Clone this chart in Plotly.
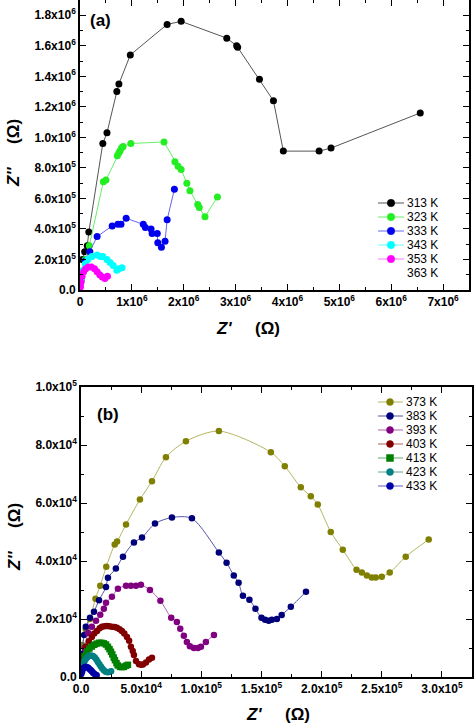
import plotly.graph_objects as go

# ---------------- Panel (a): Z'' vs Z' (values in MOhm, scaled below) ----------------
A_SCALE = 1e6
a313_x = [0.05, 0.09, 0.14, 0.17, 0.44, 0.52, 0.71, 0.75, 0.97, 1.68, 1.95, 2.83, 3.02, 3.04, 3.46, 3.73, 3.92, 4.61, 4.84, 6.56]
a313_y = [0.20, 0.25, 0.29, 0.38, 0.96, 1.03, 1.30, 1.35, 1.54, 1.74, 1.76, 1.65, 1.60, 1.59, 1.38, 1.24, 0.91, 0.91, 0.93, 1.16]
a323_x = [0.03, 0.10, 0.18, 0.45, 0.50, 0.72, 0.75, 0.77, 0.80, 0.83, 0.98, 1.62, 1.83, 1.89, 1.95, 2.06, 2.12, 2.27, 2.30, 2.41, 2.65]
a323_y = [0.08, 0.20, 0.29, 0.71, 0.72, 0.88, 0.90, 0.91, 0.93, 0.94, 0.96, 0.97, 0.84, 0.81, 0.79, 0.70, 0.65, 0.56, 0.54, 0.48, 0.61]
a333_x = [0.02, 0.05, 0.10, 0.19, 0.33, 0.62, 0.73, 0.79, 0.89, 1.22, 1.26, 1.37, 1.39, 1.49, 1.50, 1.57, 1.64, 1.68, 1.82]
a333_y = [0.06, 0.12, 0.19, 0.25, 0.35, 0.42, 0.43, 0.43, 0.47, 0.43, 0.41, 0.40, 0.37, 0.37, 0.31, 0.28, 0.32, 0.46, 0.66]
a343_x = [0.01, 0.03, 0.06, 0.10, 0.15, 0.23, 0.33, 0.39, 0.44, 0.52, 0.58, 0.64, 0.71, 0.75, 0.81]
a343_y = [0.04, 0.08, 0.13, 0.17, 0.20, 0.22, 0.23, 0.22, 0.22, 0.20, 0.18, 0.16, 0.13, 0.14, 0.145]
a353_x = [0.01, 0.02, 0.04, 0.07, 0.11, 0.16, 0.22, 0.28, 0.33, 0.38, 0.43, 0.48, 0.53]
a353_y = [0.02, 0.05, 0.09, 0.12, 0.14, 0.15, 0.15, 0.14, 0.12, 0.10, 0.085, 0.075, 0.09]
a363_x = []
a363_y = []

# ---------------- Panel (b): values in kOhm, scaled below ----------------
B_SCALE = 1e3
b373_x = [1, 4, 7.5, 12, 16, 21, 28, 30, 37.4, 49, 59, 70.6, 87.2, 114.6, 157.8, 169.4, 182.7, 191, 196.8, 207.6, 217.6, 229, 233.4, 237.6, 241.7, 245, 250, 256.6, 269.9, 289]
b373_y = [11, 16.5, 20, 27, 31.5, 38, 45.7, 46.7, 52.6, 61.2, 67.5, 75.8, 81.3, 84.8, 77.5, 72.7, 65.4, 62.3, 59.5, 50, 43.9, 37, 36, 35, 34.3, 34.3, 34.6, 36, 41.5, 47.4]
b383_x = [1, 2.5, 4, 7.5, 10.8, 15, 20.8, 22.4, 29, 34.9, 44, 50.7, 61.5, 75.6, 92.2, 114.6, 121, 127, 131, 134.6, 140, 145, 150, 153, 156, 158.6, 162.8, 166.8, 174.4, 187]
b383_y = [8, 14.5, 17.3, 20.4, 22.5, 26.5, 31, 34.2, 37.4, 41.5, 46.4, 48.1, 52.9, 55, 54.7, 42.9, 39.4, 35, 32.5, 28, 26.6, 23.5, 20.4, 19.7, 19.4, 19.7, 20, 21.4, 24.2, 29.4]
b393_x = [1, 3, 6, 9, 12.5, 16, 19, 20.8, 25.7, 30.7, 37.4, 41.5, 45.7, 49.8, 57.3, 66, 75, 79.7, 82.5, 85.5, 88, 90.5, 93.8, 97.2, 99.7, 103.8, 110.5]
b393_y = [5, 10, 15.2, 17.3, 19.4, 21.5, 23.5, 25.6, 27.7, 30.4, 31.5, 31.5, 31.5, 31.8, 30, 26.3, 20.4, 19, 16.6, 14.2, 12.1, 10.6, 10, 10, 10.4, 12.1, 14.5]
b403_x = [0.5, 2, 4, 6.5, 9, 11, 13.3, 15.5, 17.4, 19.5, 21.6, 23.5, 25.7, 28, 29.9, 32, 34, 36, 38.2, 40, 41.5, 43, 44, 45.7, 48.2, 50, 51.5, 54, 56.5, 59]
b403_y = [3, 7, 10.4, 12.3, 13.8, 15, 15.9, 16.8, 17.3, 17.5, 17.6, 17.5, 17.3, 17.2, 17, 16.5, 15.9, 15, 13.8, 12.5, 10.4, 9, 7.6, 5.5, 4.4, 4.2, 4.3, 5, 6, 6.6]
b413_x = [0.5, 1.5, 3, 5, 7, 9, 11, 13, 15, 17, 19, 20.8, 22.4, 23.7, 24.9, 26, 27.2, 28.2, 29.5, 30.5, 32.4, 34, 35.7, 37.5, 39]
b413_y = [2.5, 5, 7.2, 8.8, 9.8, 10.5, 11.1, 11.5, 11.8, 11.8, 11.6, 11.2, 10.4, 9.6, 8.7, 7.8, 6.7, 5.8, 4.8, 4, 3.5, 3.4, 3.5, 3.9, 4.2]
b423_x = [0.3, 1, 2, 3, 4.2, 5.5, 7, 8.5, 10, 11.5, 12.8, 14, 15.3, 16.5, 17.7, 19, 20.5, 22, 23.5, 25]
b423_y = [1.5, 3, 4.5, 5.5, 6.3, 6.9, 7.3, 7.4, 7.2, 6.7, 6, 5.2, 4.4, 3.6, 2.9, 2.3, 1.8, 1.6, 1.7, 2.0]
b433_x = [0.3, 1, 2, 3, 4, 5, 6, 7, 8, 9, 10, 11, 12, 13]
b433_y = [1, 2, 3, 3.4, 3.5, 3.4, 3.2, 2.8, 2.4, 2, 1.5, 1.1, 0.8, 0.6]

# tick labels
a_xticks = [0, 1e6, 2e6, 3e6, 4e6, 5e6, 6e6, 7e6]
a_xtext = ["0", "1x10<sup>6</sup>", "2x10<sup>6</sup>", "3x10<sup>6</sup>", "4x10<sup>6</sup>",
           "5x10<sup>6</sup>", "6x10<sup>6</sup>", "7x10<sup>6</sup>"]
a_yticks = [0, 2e5, 4e5, 6e5, 8e5, 1.0e6, 1.2e6, 1.4e6, 1.6e6, 1.8e6]
a_ytext = ["0.0", "2.0x10<sup>5</sup>", "4.0x10<sup>5</sup>", "6.0x10<sup>5</sup>", "8.0x10<sup>5</sup>",
           "1.0x10<sup>6</sup>", "1.2x10<sup>6</sup>", "1.4x10<sup>6</sup>", "1.6x10<sup>6</sup>", "1.8x10<sup>6</sup>"]
b_xticks = [0, 5e4, 1e5, 1.5e5, 2e5, 2.5e5, 3e5]
b_xtext = ["0.0", "5.0x10<sup>4</sup>", "1.0x10<sup>5</sup>", "1.5x10<sup>5</sup>", "2.0x10<sup>5</sup>",
           "2.5x10<sup>5</sup>", "3.0x10<sup>5</sup>"]
b_yticks = [0, 2e4, 4e4, 6e4, 8e4, 1e5]
b_ytext = ["0.0", "2.0x10<sup>4</sup>", "4.0x10<sup>4</sup>", "6.0x10<sup>4</sup>", "8.0x10<sup>4</sup>",
           "1.0x10<sup>5</sup>"]

FONT = "Liberation Sans, Arial, sans-serif"
W, H = 474, 726

fig = go.Figure()

def sc(v, s):
    return [t * s for t in v]

def bold(lst):
    return ["<b>" + t + "</b>" for t in lst]

# name, x, y, marker colour, line colour, symbol, show marker in key
a_series = [
    ("313 K", a313_x, a313_y, "#000000", "#555555", "circle", True),
    ("323 K", a323_x, a323_y, "#22ee22", "#66ee66", "circle", True),
    ("333 K", a333_x, a333_y, "#0000ee", "#6666ee", "circle", True),
    ("343 K", a343_x, a343_y, "#00ffff", "#66ffff", "circle", True),
    ("353 K", a353_x, a353_y, "#ff00ff", "#ff77ff", "circle", True),
    ("363 K", a363_x, a363_y, "#ffffff", "#ffffff", "circle", False),
]
b_series = [
    ("373 K", b373_x, b373_y, "#808000", "#b5b560", "circle", True),
    ("383 K", b383_x, b383_y, "#00007a", "#5555aa", "circle", True),
    ("393 K", b393_x, b393_y, "#800080", "#b060b0", "circle", True),
    ("403 K", b403_x, b403_y, "#800000", "#b06060", "circle", True),
    ("413 K", b413_x, b413_y, "#008000", "#60b060", "square", True),
    ("423 K", b423_x, b423_y, "#008080", "#60a0a0", "circle", True),
    ("433 K", b433_x, b433_y, "#0000a8", "#6060c0", "circle", True),
]

for name, xs, ys, mc, lc, sym, show in a_series:
    if not xs:
        continue
    fig.add_trace(go.Scatter(x=sc(xs, A_SCALE), y=sc(ys, A_SCALE), name=name, mode="lines+markers",
                             marker=dict(color=mc, size=7, symbol=sym), line=dict(color=lc, width=1),
                             xaxis="x", yaxis="y", showlegend=False))
for name, xs, ys, mc, lc, sym, show in b_series:
    fig.add_trace(go.Scatter(x=sc(xs, B_SCALE), y=sc(ys, B_SCALE), name=name, mode="lines+markers",
                             marker=dict(color=mc, size=6.5, symbol=sym),
                             line=dict(color=lc, width=1, shape="spline", smoothing=0.8),
                             xaxis="x2", yaxis="y2", showlegend=False))

def ax(domain, anchor, rng, tv, tt, mdt):
    return dict(domain=domain, anchor=anchor, range=rng, tickvals=tv, ticktext=bold(tt),
                showline=True, linecolor="black", linewidth=1.6, mirror="allticks",
                ticks="inside", ticklen=6, tickwidth=1.3, tickcolor="black",
                minor=dict(ticks="inside", ticklen=3, dtick=mdt, tickcolor="black", tickwidth=1.2),
                showgrid=False, zeroline=False, automargin=False,
                tickfont=dict(family=FONT, size=12, color="black"))

fig.update_layout(
    width=W, height=H, margin=dict(l=0, r=0, t=0, b=0, autoexpand=False),
    paper_bgcolor="white", plot_bgcolor="white",
    font=dict(family=FONT, color="black"),
    xaxis=ax([80/W, 469/W], "y", [0, 7.5e6], a_xticks, a_xtext, 0.5e6),
    yaxis=ax([1 - 290/H, 1.0], "x", [0, 1.9e6], a_yticks, a_ytext, 1e5),
    xaxis2=ax([81/W, 472/W], "y2", [0, 3.25e5], b_xticks, b_xtext, 2.5e4),
    yaxis2=ax([1 - 677/H, 1 - 387/H], "x2", [0, 1.0e5], b_yticks, b_ytext, 1e4),
    showlegend=False,
)

# ---- hand-drawn legend keys (compact rows, as in the original) ----
def legend_keys(series, x_line0, x_line1, x_mark, x_text, y_first, step, msize):
    for i, (name, xs, ys, mc, lc, sym, show) in enumerate(series):
        yp = 1 - (y_first + i * step) / H
        if show:
            fig.add_shape(type="line", xref="paper", yref="paper", x0=x_line0 / W, x1=x_line1 / W,
                          y0=yp, y1=yp, line=dict(color=lc, width=1))
            fig.add_shape(type="circle" if sym == "circle" else "rect", xref="paper", yref="paper",
                          xsizemode="pixel", ysizemode="pixel", xanchor=x_mark / W, yanchor=yp,
                          x0=-msize / 2, x1=msize / 2, y0=-msize / 2, y1=msize / 2,
                          fillcolor=mc, line=dict(color=mc, width=0.5))
        fig.add_annotation(xref="paper", yref="paper", x=x_text / W, y=yp, text=name, showarrow=False,
                           xanchor="left", yanchor="middle", font=dict(family=FONT, size=12, color="black"))

legend_keys(a_series, 378, 404, 391, 405, 203, 14, 7.5)
legend_keys(b_series, 378, 403, 390, 404, 402, 14, 7)

ann = [
    dict(text="<b>(a)</b>", x=100/W, y=1 - 20/H, yanchor="middle"),
    dict(text="<b>(b)</b>", x=108/W, y=1 - 414/H, yanchor="middle"),
    dict(text="<b><i>Z'</i></b>     <b>(Ω)</b>", x=248/W, y=1 - 328/H, yanchor="middle"),
    dict(text="<b><i>Z'</i></b>     <b>(Ω)</b>", x=278/W, y=0, yanchor="bottom"),
    dict(text="<b><i>Z''</i></b>     <b>(Ω)</b>", x=14/W, y=1 - 153/H, textangle=-90, yanchor="middle"),
    dict(text="<b><i>Z''</i></b>     <b>(Ω)</b>", x=14/W, y=1 - 537/H, textangle=-90, yanchor="middle"),
]
for a in ann:
    fig.add_annotation(xref="paper", yref="paper", showarrow=False, xanchor="center",
                       font=dict(family=FONT, size=17, color="black"), **a)

fig.write_html("out.html", config={"displayModeBar": False},
               post_script="document.body.style.margin='0';document.body.style.overflow='hidden';")
